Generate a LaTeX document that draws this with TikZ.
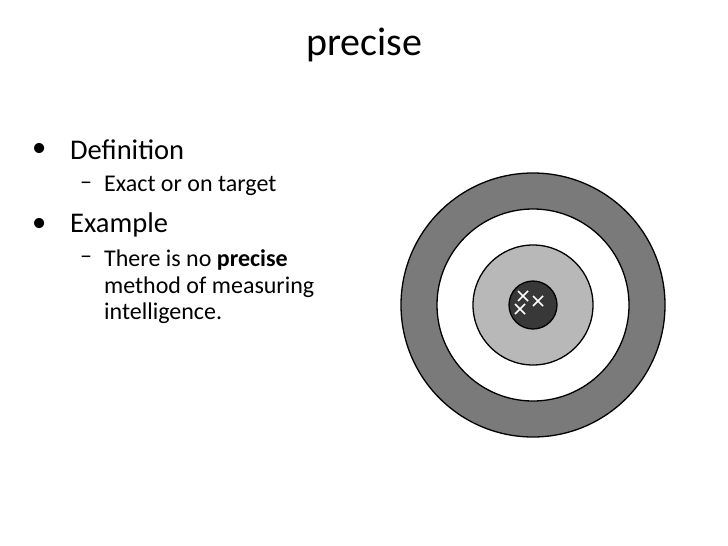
\documentclass[tikz,border=0pt]{standalone}
\usepackage{fontspec}
\setmainfont{Carlito}
\begin{document}
\begin{tikzpicture}[x=1pt,y=-1pt,
  ring/.style={draw=black,line width=1.3pt},
  l1/.style={anchor=west,font=\fontsize{28.5}{30}\selectfont,inner sep=0},
  l2/.style={anchor=west,font=\fontsize{24}{26}\selectfont,inner sep=0},
  cross/.style={white,line width=1.6pt}]
\useasboundingbox (0,0) rectangle (728,546);
\node[font=\fontsize{40}{44}\selectfont] (title) at (364,45) {precise};
\node[l1] (d1) at (32,150) {•};
\node[l1] (b1) at (70,150) {Definition};
\node[l2] (e1) at (80,186) {–};
\node[l2] (s1) at (104,186) {Exact or on target};
\node[l1] (d2) at (32,225) {•};
\node[l1] (b2) at (70,225) {Example};
\node[l2] (e2) at (80,260) {–};
\node[l2] (s2) at (104,260) {There is no \textbf{precise}};
\node[l2] (s3) at (104,287) {method of measuring};
\node[l2] (s4) at (104,313) {intelligence.};
\coordinate (c) at (533,305);
\fill[ring,fill=black!52] (c) circle (132);
\fill[ring,fill=white] (c) circle (96);
\fill[ring,fill=black!28] (c) circle (60);
\fill[ring,fill=black!78] (c) circle (24);
\foreach \p in {(523,296),(538,301),(520,309)}{
  \draw[cross] \p ++(-5,-5) -- ++(10,10) \p ++(5,-5) -- ++(-10,10);}
\end{tikzpicture}
\end{document}
